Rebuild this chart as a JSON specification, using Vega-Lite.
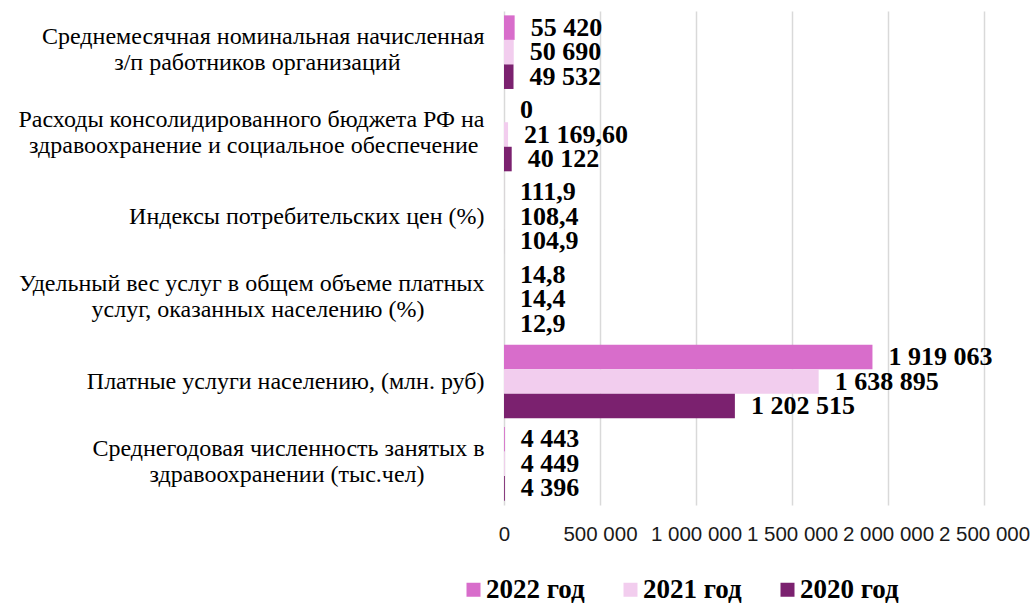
{
  "$schema": "https://vega.github.io/schema/vega-lite/v6.json",
  "autosize": "none",
  "width": 480,
  "height": 494,
  "padding": {"left": 504, "top": 11, "right": 48, "bottom": 98},
  "background": "white",
  "config": {"view": {"stroke": null}},
  "data": {
    "values": [
      {"category": "Среднемесячная номинальная начисленная\nз/п работников организаций", "series": "2022 год", "value": 55420, "label": "55 420"},
      {"category": "Среднемесячная номинальная начисленная\nз/п работников организаций", "series": "2021 год", "value": 50690, "label": "50 690"},
      {"category": "Среднемесячная номинальная начисленная\nз/п работников организаций", "series": "2020 год", "value": 49532, "label": "49 532"},
      {"category": "Расходы консолидированного бюджета РФ на\nздравоохранение и социальное обеспечение", "series": "2022 год", "value": 0, "label": "0"},
      {"category": "Расходы консолидированного бюджета РФ на\nздравоохранение и социальное обеспечение", "series": "2021 год", "value": 21169.6, "label": "21 169,60"},
      {"category": "Расходы консолидированного бюджета РФ на\nздравоохранение и социальное обеспечение", "series": "2020 год", "value": 40122, "label": "40 122"},
      {"category": "Индексы потребительских цен (%)", "series": "2022 год", "value": 111.9, "label": "111,9"},
      {"category": "Индексы потребительских цен (%)", "series": "2021 год", "value": 108.4, "label": "108,4"},
      {"category": "Индексы потребительских цен (%)", "series": "2020 год", "value": 104.9, "label": "104,9"},
      {"category": "Удельный вес услуг в общем объеме платных\nуслуг, оказанных населению (%)", "series": "2022 год", "value": 14.8, "label": "14,8"},
      {"category": "Удельный вес услуг в общем объеме платных\nуслуг, оказанных населению (%)", "series": "2021 год", "value": 14.4, "label": "14,4"},
      {"category": "Удельный вес услуг в общем объеме платных\nуслуг, оказанных населению (%)", "series": "2020 год", "value": 12.9, "label": "12,9"},
      {"category": "Платные услуги населению, (млн. руб)", "series": "2022 год", "value": 1919063, "label": "1 919 063"},
      {"category": "Платные услуги населению, (млн. руб)", "series": "2021 год", "value": 1638895, "label": "1 638 895"},
      {"category": "Платные услуги населению, (млн. руб)", "series": "2020 год", "value": 1202515, "label": "1 202 515"},
      {"category": "Среднегодовая численность занятых в\nздравоохранении (тыс.чел)", "series": "2022 год", "value": 4443, "label": "4 443"},
      {"category": "Среднегодовая численность занятых в\nздравоохранении (тыс.чел)", "series": "2021 год", "value": 4449, "label": "4 449"},
      {"category": "Среднегодовая численность занятых в\nздравоохранении (тыс.чел)", "series": "2020 год", "value": 4396, "label": "4 396"}
    ]
  },
  "encoding": {
    "y": {
      "field": "category", "type": "nominal", "sort": null,
      "scale": {"paddingInner": 0.106, "paddingOuter": 0.053},
      "axis": {
        "title": null, "domain": false, "ticks": false, "grid": false,
        "labelExpr": "indexof(datum.label, '\\n') < 0 ? datum.label : [split(datum.label, '\\n')[0], split(datum.label, '\\n')[1] + (indexof(datum.label, 'з/п') >= 0 ? '\u00a0\u00a0\u00a0\u00a0\u00a0\u00a0\u00a0\u00a0\u00a0\u00a0\u00a0\u00a0\u00a0\u00a0\u200b' : indexof(datum.label, 'Расходы') >= 0 ? '\u00a0\u200b' : '\u00a0\u00a0\u00a0\u00a0\u00a0\u00a0\u00a0\u00a0\u00a0\u00a0\u200b')]",
        "labelOffset": {"condition": {"test": "indexof(datum.value, '\\n') >= 0", "value": -15}, "value": 0},
        "labelFont": "Liberation Serif", "labelFontSize": 24, "labelColor": "#000000",
        "labelPadding": 20, "labelLimit": 700, "labelLineHeight": 26
      }
    },
    "x": {
      "field": "value", "type": "quantitative",
      "scale": {"domain": [0, 2500000], "nice": false},
      "axis": {
        "title": null, "domain": false, "ticks": false, "values": [0, 500000, 1000000, 1500000, 2000000, 2500000],
        "labelExpr": "replace(format(datum.value, ','), /,/g, ' ')",
        "labelFont": "Liberation Sans", "labelFontSize": 20.5, "labelColor": "#1a1a1a",
        "labelPadding": 19, "labelOverlap": false, "labelFlush": false,
        "gridColor": "#d9d9d9", "gridWidth": 1.5
      }
    },
    "yOffset": {"field": "series", "sort": ["2022 год", "2021 год", "2020 год"]}
  },
  "layer": [
    {
      "mark": {"type": "bar"},
      "encoding": {
        "color": {
          "field": "series", "type": "nominal",
          "scale": {"domain": ["2022 год", "2021 год", "2020 год"], "range": ["#D86DCB", "#F2CDEE", "#7B216F"]},
          "legend": {
            "title": null, "orient": "none", "legendX": -44, "legendY": 565, "padding": 0,
            "direction": "horizontal", "symbolType": "square", "symbolSize": 196,
            "symbolStrokeWidth": 0,
            "labelFont": "Liberation Serif", "labelFontWeight": "bold", "labelFontSize": 27,
            "labelColor": "#000000", "labelOffset": -1, "columnPadding": 32, "labelLimit": 300
          }
        }
      }
    },
    {
      "mark": {"type": "text", "align": "left", "baseline": "middle", "dx": 16, "font": "Liberation Serif", "fontWeight": "bold", "fontSize": 26, "color": "#000000"},
      "encoding": {"text": {"field": "label"}}
    }
  ]
}
